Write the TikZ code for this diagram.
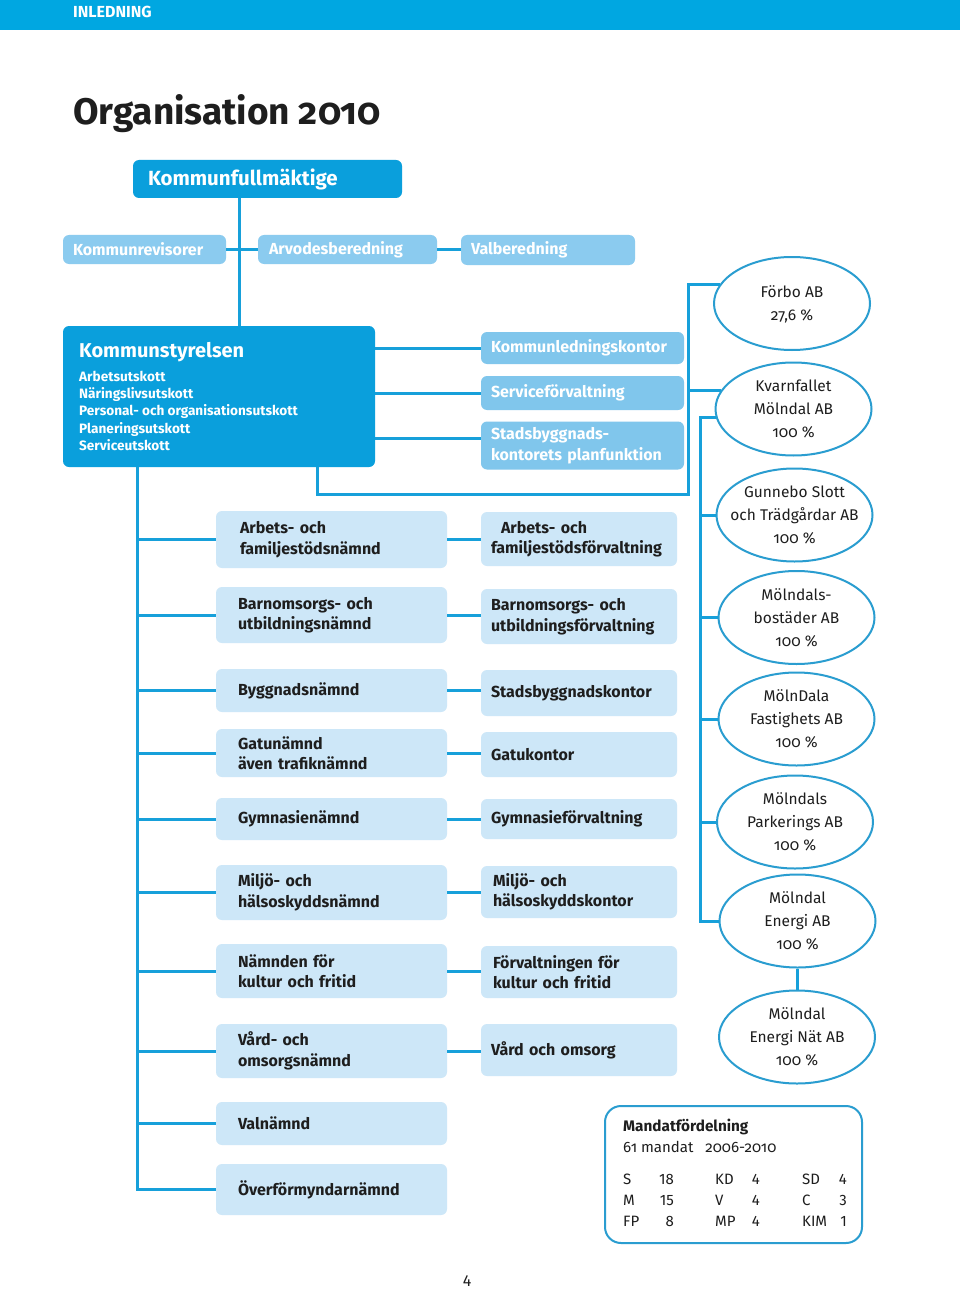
\documentclass[tikz,border=0pt]{standalone}
\usepackage{fontspec}
\setmainfont{Fira Sans}
\newfontfamily\osf{Fira Sans}[Numbers=OldStyle]
\usetikzlibrary{shapes.geometric}
\definecolor{hdr}{HTML}{00A7E1}
\definecolor{dk}{HTML}{0A9FDC}
\definecolor{md}{HTML}{8BCBEF}
\definecolor{md2}{HTML}{80C6EC}
\definecolor{lt}{HTML}{CDE7F8}
\definecolor{lc}{HTML}{17A0DA}
\definecolor{ec}{HTML}{2A9DD0}
\definecolor{tx}{HTML}{1E1E1E}
\begin{document}
\begin{tikzpicture}[x=1pt,y=-1pt,
  conn/.style={draw=lc, line width=3pt},
  rbox/.style={rounded corners=6pt, inner ysep=0pt, align=left, anchor=center},
  darkbox/.style={rbox, fill=dk, text=white, font=\bfseries\fontsize{20.5}{24}\selectfont},
  midbox/.style={rbox, fill=md, text=white, font=\bfseries\fontsize{16}{20}\selectfont},
  kbox/.style={rbox, fill=md2, text=white, font=\bfseries\fontsize{16}{21}\selectfont, inner xsep=10pt, text width=183pt},
  nbox/.style={rbox, fill=lt, text=tx, font=\bfseries\fontsize{16}{20.5}\selectfont, inner xsep=22pt, text width=187pt},
  fbox/.style={rbox, fill=lt, text=tx, font=\bfseries\fontsize{16}{20.5}\selectfont, inner xsep=10pt, text width=176pt},
  comp/.style={ellipse, draw=ec, line width=2pt, minimum width=156pt, minimum height=93pt, inner sep=0pt},
  comptext/.style={align=center, text=tx, font=\osf\fontsize{15.5}{23}\selectfont, inner sep=0pt},
  mtext/.style={inner sep=0pt, text=tx, font=\fontsize{15}{18}\selectfont},
]
\useasboundingbox (0,0) rectangle (960,1289);
\fill[white] (0,0) rectangle (960,1289);
\fill[hdr] (0,0) rectangle (960,30);
\node[anchor=base west, inner sep=0pt, text=white, font=\bfseries\fontsize{16}{18}\selectfont] (hd) at (73,17.5) {INLEDNING};
\node[anchor=base west, inner sep=0pt, text=tx, font=\osf\bfseries\fontsize{37}{44}\selectfont] (title) at (73,125) {Organisation 2010};

% top level
\node[darkbox, minimum width=269pt, minimum height=38pt, text width=239pt, inner xsep=15pt] (KF) at (267.5,179) {Kommunfullmäktige};
\node[midbox, minimum width=163pt, minimum height=29pt, text width=143pt, inner xsep=10pt] (KR) at (144.5,249.5) {Kommunrevisorer};
\node[midbox, minimum width=179pt, minimum height=29pt, text width=157pt, inner xsep=11pt] (AB) at (347.5,249.5) {Arvodesberedning};
\node[midbox, minimum width=174pt, minimum height=30pt, text width=154pt, inner xsep=10pt] (VB) at (548,250) {Valberedning};

% Kommunstyrelsen
\node[rbox, fill=dk, minimum width=312pt, minimum height=141pt] (KS) at (219,396.5) {};
\node[anchor=base west, inner sep=0pt, text=white, font=\bfseries\fontsize{20}{24}\selectfont] (kst) at (79,357) {Kommunstyrelsen};
\foreach \t [count=\i] in {Arbetsutskott,Näringslivsutskott,Personal- och organisationsutskott,Planeringsutskott,Serviceutskott}
  \node[anchor=base west, inner sep=0pt, text=white, font=\bfseries\fontsize{13.6}{16}\selectfont] (ks\i) at (79,{364+17.3*\i}) {\t};

\node[kbox, minimum height=32pt] (KLK) at (582.5,348) {Kommunledningskontor};
\node[kbox, minimum height=34pt] (SF) at (582.5,393) {Serviceförvaltning};
\node[kbox, minimum height=48pt] (SBP) at (582.5,445.5) {Stadsbyggnads-\\kontorets planfunktion};

% nämnder
\node[nbox, minimum height=57pt] (n1) at (331.5,539.5) {\hspace*{2pt}Arbets- och\\\hspace*{2pt}familjestödsnämnd};
\node[nbox, minimum height=56pt] (n2) at (331.5,615) {Barnomsorgs- och\\utbildningsnämnd};
\node[nbox, minimum height=43pt] (n3) at (331.5,690.5) {Byggnadsnämnd};
\node[nbox, minimum height=48pt] (n4) at (331.5,753) {Gatunämnd\\även trafiknämnd};
\node[nbox, minimum height=42pt] (n5) at (331.5,819) {Gymnasienämnd};
\node[nbox, minimum height=55pt] (n6) at (331.5,892.5) {Miljö- och\\hälsoskyddsnämnd};
\node[nbox, minimum height=54pt] (n7) at (331.5,971) {Nämnden för\\kultur och fritid};
\node[nbox, minimum height=54pt] (n8) at (331.5,1051) {Vård- och\\omsorgsnämnd};
\node[nbox, minimum height=43pt] (n9) at (331.5,1123.5) {Valnämnd};
\node[nbox, minimum height=51pt] (n10) at (331.5,1189.5) {Överförmyndarnämnd};

% förvaltningar
\node[fbox, minimum height=54pt] (f1) at (579,539) {\hspace*{10pt}Arbets- och\\familjestödsförvaltning};
\node[fbox, minimum height=55pt] (f2) at (579,616.5) {Barnomsorgs- och\\utbildningsförvaltning};
\node[fbox, minimum height=46pt] (f3) at (579,693) {Stadsbyggnadskontor};
\node[fbox, minimum height=45pt] (f4) at (579,754.5) {Gatukontor};
\node[fbox, minimum height=40pt] (f5) at (579,819) {Gymnasieförvaltning};
\node[fbox, minimum height=52pt] (f6) at (579,892) {\hspace*{2pt}Miljö- och\\\hspace*{2pt}hälsoskyddskontor};
\node[fbox, minimum height=52pt] (f7) at (579,972) {\hspace*{2pt}Förvaltningen för\\\hspace*{2pt}kultur och fritid};
\node[fbox, minimum height=52pt] (f8) at (579,1050) {Vård och omsorg};

% companies
\node[comp] (e1) at (792,303.5) {};
\node[comp] (e2) at (793.5,409) {};
\node[comp] (e3) at (794.5,515) {};
\node[comp] (e4) at (796.5,617.5) {};
\node[comp] (e5) at (796.5,719) {};
\node[comp] (e6) at (795,822) {};
\node[comp] (e7) at (797.5,921) {};
\node[comp] (e8) at (797,1037) {};
\node[comptext] (t1) at ([yshift=-1pt]e1) {Förbo AB\\27,6 \%};
\node[comptext] (t2) at (e2) {Kvarnfallet\\Mölndal AB\\100 \%};
\node[comptext] (t3) at (e3) {Gunnebo Slott\\och Trädgårdar AB\\100 \%};
\node[comptext] (t4) at (e4) {Mölndals-\\bostäder AB\\100 \%};
\node[comptext] (t5) at (e5) {MölnDala\\Fastighets AB\\100 \%};
\node[comptext] (t6) at (e6) {Mölndals\\Parkerings AB\\100 \%};
\node[comptext] (t7) at (e7) {Mölndal\\Energi AB\\100 \%};
\node[comptext] (t8) at (e8) {Mölndal\\Energi Nät AB\\100 \%};

% connectors top
\coordinate (tk) at (239,0);
\draw[conn] (KF.south -| tk) -- (KS.north -| tk);
\draw[conn] (KR.east) -- (AB.west);
\draw[conn] (AB.east) -- (VB.west |- AB.east);
\draw[conn] (KS.east |- KLK.west) -- (KLK.west);
\draw[conn] (KS.east |- SF.west) -- (SF.west);
\coordinate (sbpc) at ([yshift=7pt]SBP.west);
\draw[conn] (KS.east |- sbpc) -- (sbpc);

% to companies
\coordinate (ksb) at (317,494);
\coordinate (bus) at (688,494);
\draw[conn] (KS.south -| ksb) -- (ksb) -- (bus) -- (bus |- e1.165) -- (e1.165);
\draw[conn] (bus |- e2.166) -- (e2.166);
\coordinate (sub) at (700,0);
\draw[conn] (e2.186) -- (sub |- e2.186) -- (sub |- e7.west) -- (e7.west);
\foreach \e in {e3,e4,e5,e6}
  \draw[conn] (sub |- \e.west) -- (\e.west);
\draw[conn] (e7.south) -- (e7.south |- e8.north);

% nämnd trunk
\coordinate (tl) at (137,0);
\draw[conn] (KS.south -| tl) -- (tl |- n10.west) -- (n10.west);
\foreach \n in {n1,n2,n3,n4,n5,n6,n7,n8,n9}
  \draw[conn] (tl |- \n.west) -- (\n.west);
\foreach \i in {1,...,8}
  \draw[conn] (n\i.east) -- (n\i.east -| f\i.west);

% Mandatfördelning
\node[draw=ec, line width=2pt, rounded corners=16pt, minimum width=257pt, minimum height=137pt, inner sep=0pt] (mand) at (733.5,1174.5) {};
\node[mtext, anchor=base west, font=\bfseries\fontsize{15.3}{18}\selectfont] (mh) at (623,1131) {Mandatfördelning};
\node[mtext, anchor=base west, font=\osf\fontsize{15}{18}\selectfont] (ms) at (623,1152) {61 mandat\hspace{12pt}2006-2010};
\foreach \a/\b/\c/\d/\e/\f [count=\r] in {S/18/KD/4/SD/4, M/15/V/4/C/3, FP/8/MP/4/KIM/1}{
  \node[mtext, anchor=base west] (pa\r) at (623,{1163+21*\r}) {\a};
  \node[mtext, anchor=base east] (va\r) at (674,{1163+21*\r}) {\b};
  \node[mtext, anchor=base west] (pb\r) at (715,{1163+21*\r}) {\c};
  \node[mtext, anchor=base east] (vb\r) at (760,{1163+21*\r}) {\d};
  \node[mtext, anchor=base west] (pc\r) at (802,{1163+21*\r}) {\e};
  \node[mtext, anchor=base east] (vc\r) at (847,{1163+21*\r}) {\f};
}

\node[anchor=base, inner sep=0pt, text=tx, font=\fontsize{16}{18}\selectfont] (pg) at (467,1286) {4};
\end{tikzpicture}
\end{document}
